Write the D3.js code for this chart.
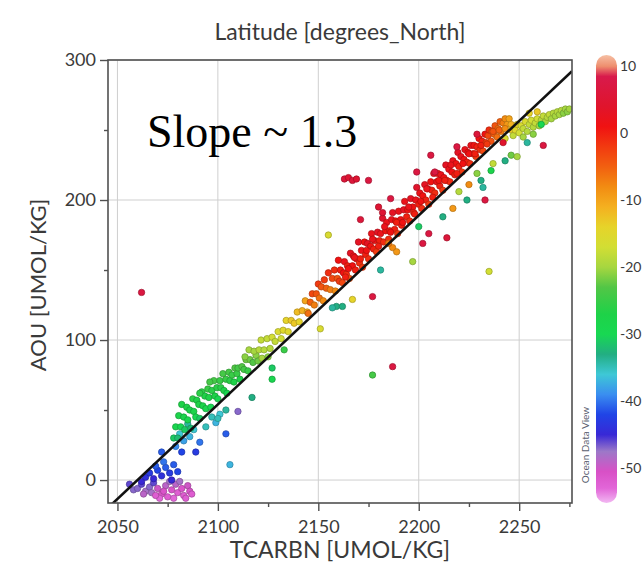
<!DOCTYPE html>
<html>
<head>
<meta charset="utf-8">
<script src="https://cdn.jsdelivr.net/npm/d3@7"></script>
<style>
  html, body { margin: 0; padding: 0; background: #fff; }
  svg { display: block; }
  text { font-family: Lato, "Open Sans", sans-serif; fill: #3a3a3a; }
</style>
</head>
<body>
<svg id="chart" width="642" height="569"></svg>
<script>
// Axis ticks
const xTicks = [2050, 2100, 2150, 2200, 2250];
const xMinorTicks = [2075, 2125, 2175, 2225, 2275];
const yTicks = [0, 100, 200, 300];
const yMinorTicks = [50, 150, 250];
const latTicks = [10, 0, -10, -20, -30, -40, -50];

// Latitude colour ramp (degrees North -> colour), north to south
const latStops  = [11.7, 10, 8.5, 4, 1, -2, -5, -8, -11, -14, -17, -20, -23, -27, -30, -33, -36, -39, -42, -45, -47.5, -50.5, -53, -55.2];
const latColors = ["#f6c0a4", "#ee8e6e", "#d81a4c", "#e0142c", "#f01212", "#f23a10", "#f26010", "#f28c12", "#f4b020", "#e6d42a", "#d2de34", "#a6d640", "#52c646", "#1ed248", "#18d852", "#22ae82", "#3ec8d6", "#3a8ef0", "#2044e6", "#3828d6", "#9c78c8", "#d850c6", "#e266d8", "#f2b8f2"];

// Linear fit: AOU = slope * (TCARBN - tcZero)
const fitSlope = 1.35;
const fitZero = 2060;

// Samples: [TCARBN, AOU, latitude]
const southernmost = [
  [2056,-3,-46],[2058,-7,-47],[2060,-6,-47],[2062,-3,-46],[2064,-8,-48],[2066,-5,-47],[2063,-10,-49],
  [2068,-2,-46],[2067,-9,-48],[2070,-6,-50],[2072,-10,-51],[2074,-4,-49],[2075,-12,-52],[2077,-7,-51],
  [2078,-13,-53],[2079,-3,-49],[2080,-9,-52],[2082,-6,-51],[2083,-11,-52],[2085,-4,-50],[2086,-8,-51],
  [2071,-13,-53],[2076,-1,-48],[2069,-11,-52],[2073,-8,-51],[2081,-1,-48],[2084,-13,-52],[2087,-10,-52]
];
const blueGroup = [
  [2062,-1,-45],[2064,2,-44],[2066,5,-43],[2068,1,-45],[2070,7,-42],[2072,3,-44],[2074,9,-41],
  [2076,5,-43],[2078,11,-41],[2080,6,-42],[2073,13,-40],[2069,10,-41],[2077,0,-45],
  [2072,20,-41],[2082,20,-42],[2089,20,-43],[2079,24,-39],[2083,28,-38],[2086,31,-37],
  [2081,33,-36],[2088,36,-36],[2091,27,-40],[2094,38,-35],[2085,40,-34],[2104,33,-41],
  [2097,45,-35],[2101,47,-36],[2104,50,-34],[2099,41,-37],[2100,44,-35],[2106,11,-37],
  [2110,49,-47],[2117,59,-33],[2127,72,-29],[2127,80,-31]
];
const greenGroup = [
  [2078,30,-31],[2079,38,-29],[2080,30,-32],[2080.5,46,-28],[2081.5,38,-30],[2082,54,-27],[2083,45,-28],
  [2083.5,36,-31],[2084.5,52,-27],[2085,43,-29],[2086,50,-28],[2086.5,37,-32],[2087.5,58,-26],[2088,49,-28],
  [2089,45,-30],[2089.5,57,-27],[2090.5,54,-27],[2091,44,-31],[2092,63,-26],[2092.5,53,-28],[2093.5,60,-27],
  [2094,51,-29],[2095,65,-25],[2095.5,59,-27],[2096.5,52,-30],[2097,64,-26],[2098,71,-24],[2098.5,60,-27],
  [2099.5,66,-26],[2100,58,-29],[2101,71,-25],[2101.5,66,-26],[2102.5,76,-24],[2103,64,-27],[2104,72,-25],
  [2104.5,62,-29],[2105.5,77,-24],[2106,71,-26],[2107,75,-25],[2108,70,-27],[2108.5,80,-23],[2109.5,76,-25],
  [2110,80,-24],[2111,72,-27],[2112,81,-23],[2113,79,-24],[2114,86,-22],[2115,78,-25],[2116,86,-22],
  [2117.5,84,-23],[2119,89,-21],[2120,85,-22],[2091,62,-26],[2096,70,-24],[2133,93,-25]
];
const limeGroup = [
  [2113.5,88,-21],[2115.5,93,-20],[2118,92,-20],[2120.5,93,-19],[2121.5,100,-18],[2123,93,-19],
  [2124.5,101,-18],[2126,94,-19],[2127,102,-17],[2128.5,99,-18],[2130,106,-16],[2131.5,101,-17],
  [2122,87,-20],[2125,88,-21]
];
const yellowGroup = [
  [2132.5,107,-15],[2134,114,-14],[2135,106,-15],[2136.5,114,-13],[2138,112,-13],[2139.5,120,-12],
  [2140.5,113,-14],[2142,121,-11],[2143.5,128,-10],[2144.5,120,-11]
];
const orangeGroup = [
  [2145,119,-6],[2146,127,-5],[2147,133,-3],[2148,125,-7],[2149,133,-4],[2150,140,-2],[2150.5,130,-6],
  [2151.5,138,-4],[2152.5,128,-8],[2153,143,-2],[2154,137,-5],[2155,148,-1],[2156,136,-7],[2157,144,-3],
  [2158,150,-1],[2158.5,135,-8],[2159.5,144,-4],[2160,157,1]
];
const equatorialBand = [
  [2160.5,142,-2],[2161,150,0],[2162,141,-3],[2162.5,148,1],[2163,156,2],[2164,147,-1],[2164.5,153,0],
  [2165.5,144,-4],[2166,162,3],[2167,153,1],[2167.5,160,2],[2168.5,150,0],[2169,158,1],[2170,170,3],
  [2170.5,155,-1],[2171.5,164,2],[2172,152,-2],[2173,170,1],[2173.5,161,0],[2174.5,169,3],[2175,158,-1],
  [2176,167,1],[2176.5,176,2],[2177.5,165,0],[2178,171,1],[2179,163,-2],[2179.5,177,3],[2180.5,171,0],
  [2181,176,2],[2182,187,4],[2182.5,170,-1],[2183.5,178,1],[2184,184,2],[2185,172,-1],[2185.5,178,0],
  [2186.5,186,2],[2187,191,3],[2188,179,0],[2188.5,185,1],[2189.5,176,-2],[2190,192,2],[2191,186,1],
  [2191.5,182,0],[2192.5,193,3],[2193,199,2],[2194,188,0],[2194.5,193,1],[2195.5,185,-1],[2196,201,3],
  [2197,195,1],[2197.5,191,0],[2198.5,200,2],[2199,209,4],[2200,197,0],[2200.5,205,2],[2201.5,194,-1],
  [2202,203,1],[2203,211,3],[2203.5,200,0],[2204.5,208,2],[2205,197,-2],[2206,213,1],[2206.5,207,0],
  [2207.5,219,3],[2208,205,-1],[2209,213,2],[2209.5,219,1],[2210.5,210,0],[2211,218,2],[2212,207,-2],
  [2212.5,216,1],[2213.5,225,3],[2214,214,0],[2215,222,2],[2215.5,213,-1],[2216.5,220,1],[2217,228,2],
  [2218,218,0],[2218.5,226,1],[2219.5,234,3],[2220,224,0],[2221,231,2],[2221.5,220,-2],[2222.5,229,1],
  [2223,236,2],[2224,227,0],[2224.5,234,1],[2225.5,226,-1],[2226,239,2],[2227,233,0],[2227.5,239,1],
  [2228.5,231,-2],[2229,238,0],[2230,244,1],[2230.5,236,-1],[2231.5,242,0],[2232,235,-3],[2233,247,1],
  [2233.5,241,-2],[2234.5,246,-3],[2235,250,-1],[2236,242,-4],[2236.5,249,-4],[2237.5,247,-5],
  [2238,253,-4],[2239,245,-6],[2239.5,251,-6],[2240.5,256,-5],[2241,249,-7],[2242,255,-7],
  [2243,258,-8],[2244,254,-9],[2245,258,-10],[2246,254,-11],
  [2163.5,145,0],[2165,151,1],[2168,159,2],[2171,158,0],[2174,164,1],[2177,172,2],[2180,167,0],
  [2183,181,2],[2186,177,1],[2189,184,0],[2192,184,1],[2195,195,2],[2198,190,0],[2201,199,1],
  [2204,208,2],[2207,202,0],[2210,214,1],[2213,214,0],[2216,225,2],[2219,219,0],[2222,226,1],
  [2225,233,1],[2228,233,0],[2231,239,0],[2234,240,-2],[2237,249,-4],[2240,250,-5],[2243,251,-8],
  [2187,166,-8],[2189,163,-9],[2185,169,-7]
];
const upperRight = [
  [2243,244,-16],[2246,250,-13],[2247,246,-18],[2248,250,-15],[2249,254,-14],[2250,248,-17],
  [2251,253,-16],[2252,251,-18],[2252,245,-20],[2253,256,-16],[2254,249,-19],[2255,254,-18],
  [2255,262,-14],[2256,257,-17],[2257,252,-19],[2257,247,-21],[2258,255,-18],[2259,258,-17],
  [2259,263,-13],[2260,253,-20],[2261,257,-19],[2262,260,-18],[2263,256,-20],[2264,259,-19],
  [2265,261,-18],[2266,258,-20],[2267,262,-19],[2268,260,-20],[2269,263,-19],[2270,261,-20],
  [2271,264,-19],[2272,262,-21],[2273,265,-20],[2274,263,-21],[2275,265,-20]
];
const belowFit = [
  [2159,124,-33],[2162,124,-33],[2157,123,-34],[2181,150,-34],[2212,188,-33],[2200,181,-31],
  [2224,200,-33],[2231,214,-33],[2232,209,-34],[2243,228,-33],[2254,241,-34],[2261,254,-30],
  [2236,221,-28],[2246,232,-22],[2220,206,-19],[2229,219,-21],[2237,226,-18],[2249,231,-20],
  [2197,156,-20],[2177,75,-24],[2225,211,-8],[2217,194,-9],
  [2235,149,-17],[2155,175,-16],[2151,108,-16],[2167,129,-14]
];
const outliersNorth = [
  [2163,215,6],[2165,216,5],[2167,214,6],[2169,215,5],[2175,214,7],[2186,201,7],[2180,195,5],
  [2182,191,5],[2171,186,6],[2199,220,7],[2208,220,7],[2206,232,7],[2219,238,7],[2229,247,6],
  [2242,241,4],[2262,239,7],[2062,134,7],[2187,81,7],[2205,176,7],[2202,169,7],[2214,173,6],
  [2233,200,7],[2177,131,7]
];

const samples = [].concat(southernmost, blueGroup, greenGroup, limeGroup, yellowGroup,
  orangeGroup, equatorialBand, upperRight, belowFit, outliersNorth);

// Layout
const W = 642, H = 569;
const plot = { left: 108, right: 572, top: 60, bottom: 503 };
const bar = { x: 596, width: 21, top: 55, bottom: 503 };

const svg = d3.select("#chart");
svg.append("rect").attr("width", W).attr("height", H).attr("fill", "#fff");

const x = d3.scaleLinear().domain([2045.3, 2276.3]).range([plot.left, plot.right]);
const y = d3.scaleLinear().domain([-16.4, 300]).range([plot.bottom, plot.top]);
const color = d3.scaleLinear().domain(latStops).range(latColors).clamp(true);
const latY = d3.scaleLinear().domain([-55.2, 11.7]).range([bar.bottom, bar.top]);

// Grid
const grid = svg.append("g").attr("stroke", "#cfcfcf").attr("stroke-width", 1);
grid.selectAll("line.gx").data(xTicks).join("line")
  .attr("x1", d => x(d)).attr("x2", d => x(d))
  .attr("y1", plot.top).attr("y2", plot.bottom);
grid.selectAll("line.gy").data(yTicks).join("line")
  .attr("y1", d => y(d)).attr("y2", d => y(d))
  .attr("x1", plot.left).attr("x2", plot.right);

// Points
svg.append("clipPath").attr("id", "plotClip").append("rect")
  .attr("x", plot.left).attr("y", plot.top)
  .attr("width", plot.right - plot.left).attr("height", plot.bottom - plot.top);

svg.append("g").attr("clip-path", "url(#plotClip)")
  .selectAll("circle").data(samples).join("circle")
  .attr("cx", d => x(d[0])).attr("cy", d => y(d[1])).attr("r", 3.2)
  .attr("fill", d => color(d[2]))
  .attr("stroke", d => d3.color(color(d[2])).darker(0.9))
  .attr("stroke-width", 0.7);

// Fit line
const [x0, x1] = x.domain();
svg.append("g").attr("clip-path", "url(#plotClip)").append("line")
  .attr("x1", x(x0)).attr("y1", y(fitSlope * (x0 - fitZero)))
  .attr("x2", x(x1)).attr("y2", y(fitSlope * (x1 - fitZero)))
  .attr("stroke", "#111").attr("stroke-width", 2.6);

// Frame
svg.append("rect")
  .attr("x", plot.left).attr("y", plot.top)
  .attr("width", plot.right - plot.left).attr("height", plot.bottom - plot.top)
  .attr("fill", "none").attr("stroke", "#505050").attr("stroke-width", 1.6);

// Axes
function styleAxis(g) {
  g.select(".domain").remove();
  g.selectAll(".tick line").attr("stroke", "#505050").attr("stroke-width", 1.4);
  g.selectAll(".tick text").style("font-size", "18px").attr("fill", "#3a3a3a");
}
svg.append("g").attr("transform", `translate(0,${plot.bottom})`)
  .call(d3.axisBottom(x).tickValues(xTicks).tickSize(8).tickPadding(9).tickFormat(d3.format("d")))
  .call(styleAxis);
svg.append("g").attr("transform", `translate(0,${plot.bottom})`)
  .call(d3.axisBottom(x).tickValues(xMinorTicks).tickSize(4).tickFormat(""))
  .call(styleAxis);
svg.append("g").attr("transform", `translate(${plot.left},0)`)
  .call(d3.axisLeft(y).tickValues(yTicks).tickSize(8).tickPadding(4).tickFormat(d3.format("d")))
  .call(styleAxis);
svg.append("g").attr("transform", `translate(${plot.left},0)`)
  .call(d3.axisLeft(y).tickValues(yMinorTicks).tickSize(4).tickFormat(""))
  .call(styleAxis);

// Titles
svg.append("text").attr("x", 340).attr("y", 40).attr("text-anchor", "middle")
  .style("font-size", "23px").text("Latitude [degrees_North]");
svg.append("text").attr("x", 340).attr("y", 558).attr("text-anchor", "middle")
  .style("font-size", "23px").text("TCARBN [UMOL/KG]");
svg.append("text").attr("transform", "translate(46,285) rotate(-90)").attr("text-anchor", "middle")
  .style("font-size", "22px").text("AOU [UMOL/KG]");

svg.append("text").attr("x", 147).attr("y", 147)
  .style("font-family", "'Liberation Serif', 'Times New Roman', serif")
  .style("font-size", "46px").style("fill", "#000")
  .text("Slope ~ 1.3");

// Colour bar (gradient runs top to bottom, offsets ascending)
const grad = svg.append("defs").append("linearGradient").attr("id", "latGrad")
  .attr("gradientUnits", "userSpaceOnUse")
  .attr("x1", 0).attr("x2", 0).attr("y1", bar.top).attr("y2", bar.bottom);
grad.selectAll("stop").data(latStops).join("stop")
  .attr("offset", d => (latY(d) - bar.top) / (bar.bottom - bar.top))
  .attr("stop-color", (d, i) => latColors[i]);
svg.append("rect").attr("x", bar.x).attr("y", bar.top)
  .attr("width", bar.width).attr("height", bar.bottom - bar.top)
  .attr("rx", bar.width / 2).attr("fill", "url(#latGrad)");

svg.append("g").selectAll("text").data(latTicks).join("text")
  .attr("x", 620).attr("y", d => latY(d)).attr("dy", "0.35em")
  .style("font-size", "14px").text(d => d);

svg.append("text").attr("transform", "translate(589,445) rotate(-90)").attr("text-anchor", "middle")
  .style("font-size", "10px").style("fill", "#5a6070").text("Ocean Data View");
</script>
</body>
</html>
